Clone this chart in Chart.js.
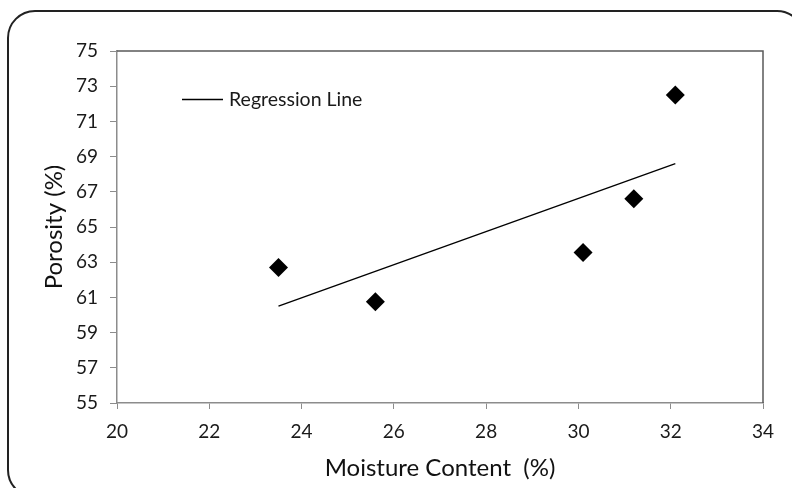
<!DOCTYPE html>
<html>
<head>
<meta charset="utf-8">
<script src="https://cdn.jsdelivr.net/npm/chart.js@4/dist/chart.umd.min.js"></script>
<style>
  html, body { margin: 0; padding: 0; background: #fff; }
  #wrap { width: 792px; height: 488px; position: relative; }
</style>
</head>
<body>
<div id="wrap"><canvas id="chart" width="792" height="488"></canvas></div>
<script>
// measured points
const moisture = [23.5, 25.6, 30.1, 31.2, 32.1];
const porosity = [62.7, 60.75, 63.55, 66.6, 72.5];

// regression line end points
const regX = [23.5, 32.1];
const regY = [60.5, 68.6];

const xTicks = [20, 22, 24, 26, 28, 30, 32, 34];
const yTicks = [55, 57, 59, 61, 63, 65, 67, 69, 71, 73, 75];

const FONT = 'Lato, "Open Sans", sans-serif';
const AXIS_GRAY = '#8c8c8c';

// rounded outer frame, plot box top/right edges, legend
const decor = {
    id: 'decor',
    beforeDraw(chart) {
        const ctx = chart.ctx;
        ctx.save();
        ctx.fillStyle = '#fff';
        ctx.fillRect(0, 0, chart.width, chart.height);
        ctx.strokeStyle = '#222';
        ctx.lineWidth = 2;
        ctx.beginPath();
        ctx.roundRect(8, 11, 796, 486, 27);
        ctx.stroke();
        ctx.restore();
    },
    afterDraw(chart) {
        const ctx = chart.ctx;
        const a = chart.chartArea;
        ctx.save();
        ctx.strokeStyle = '#5a5a5a';
        ctx.lineWidth = 1.5;
        ctx.beginPath();
        ctx.moveTo(a.left, a.top);
        ctx.lineTo(a.right, a.top);
        ctx.lineTo(a.right, a.bottom);
        ctx.stroke();

        // legend
        ctx.strokeStyle = '#000';
        ctx.lineWidth = 1.3;
        ctx.beginPath();
        ctx.moveTo(182, 99.5);
        ctx.lineTo(223, 99.5);
        ctx.stroke();
        ctx.fillStyle = '#1a1a1a';
        ctx.font = '19.5px ' + FONT;
        ctx.textBaseline = 'middle';
        ctx.fillText('Regression Line', 229, 100);
        ctx.restore();
    }
};

new Chart(document.getElementById('chart').getContext('2d'), {
    type: 'scatter',
    data: {
        datasets: [
            {
                label: 'Regression Line',
                data: regX.map((x, i) => ({ x: x, y: regY[i] })),
                showLine: true,
                borderColor: '#000',
                borderWidth: 1.3,
                pointRadius: 0,
                fill: false
            },
            {
                label: 'Porosity',
                data: moisture.map((x, i) => ({ x: x, y: porosity[i] })),
                pointStyle: 'rectRot',
                pointRadius: 9.5,
                backgroundColor: '#000',
                borderColor: '#000',
                borderWidth: 0
            }
        ]
    },
    options: {
        responsive: false,
        animation: false,
        layout: { padding: { top: 51, right: 29, left: 0, bottom: 0 } },
        plugins: {
            legend: { display: false },
            tooltip: { enabled: false }
        },
        scales: {
            x: {
                type: 'linear',
                min: 20,
                max: 34,
                afterBuildTicks: s => { s.ticks = xTicks.map(v => ({ value: v })); },
                afterFit: s => { s.height = 85; },
                grid: { drawOnChartArea: false, drawTicks: true, tickLength: 6, color: AXIS_GRAY },
                border: { color: AXIS_GRAY, width: 1.5 },
                ticks: { color: '#1a1a1a', font: { family: FONT, size: 19 }, padding: 11, maxRotation: 0 },
                title: {
                    display: true,
                    text: 'Moisture Content  (%)',
                    color: '#111',
                    font: { family: FONT, size: 24 },
                    padding: { top: 0, bottom: 5 }
                }
            },
            y: {
                type: 'linear',
                min: 55,
                max: 75,
                afterBuildTicks: s => { s.ticks = yTicks.map(v => ({ value: v })); },
                afterFit: s => { s.width = 117; },
                grid: { drawOnChartArea: false, drawTicks: true, tickLength: 7, color: AXIS_GRAY },
                border: { color: AXIS_GRAY, width: 1.5 },
                ticks: { color: '#1a1a1a', font: { family: FONT, size: 19 }, padding: 12 },
                title: {
                    display: true,
                    text: 'Porosity (%)',
                    color: '#111',
                    font: { family: FONT, size: 24 },
                    padding: { top: 40, bottom: 0 }
                }
            }
        }
    },
    plugins: [decor]
});
</script>
</body>
</html>
